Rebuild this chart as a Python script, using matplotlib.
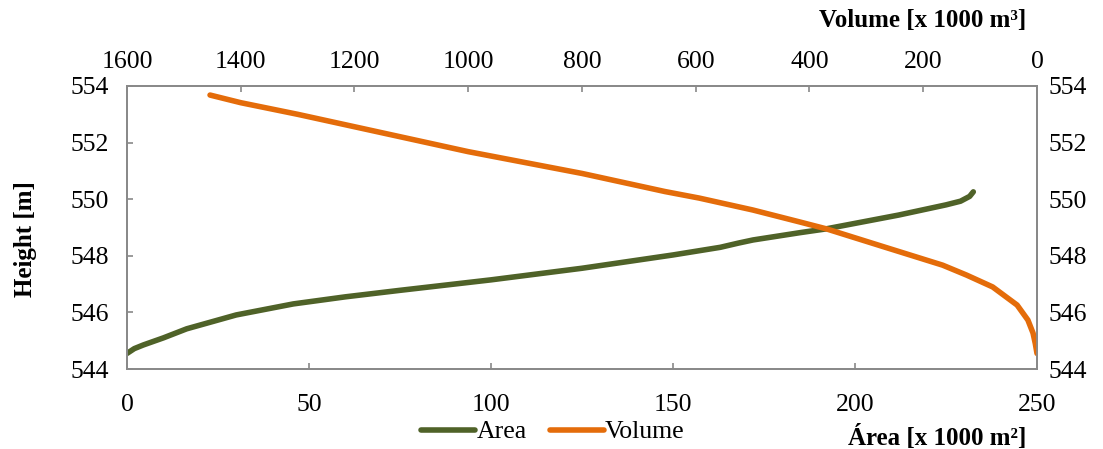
import matplotlib
matplotlib.use("Agg")
import matplotlib.pyplot as plt

plt.rcParams['font.family'] = ['Liberation Serif', 'DejaVu Serif']

# Area curve: area [x 1000 m2] vs height [m]
area_x = [0, 2, 4.5, 10, 16.4, 30, 45.7, 60, 75, 100, 125, 150, 163, 168, 172,
          185, 192, 212, 225, 229, 231.5, 232.5]
area_h = [544.55, 544.72, 544.85, 545.1, 545.42, 545.91, 546.3, 546.55, 546.78,
          547.15, 547.56, 548.03, 548.3, 548.45, 548.56, 548.82, 548.95, 549.44,
          549.8, 549.93, 550.1, 550.26]

# Volume curve: volume [x 1000 m3] vs height [m]
vol_x = [1454, 1400, 1300, 1200, 1100, 1000, 800, 654, 594, 500, 418, 370,
         265, 166, 124, 78, 35, 16, 7, 3, 0]
vol_h = [553.68, 553.41, 553.0, 552.56, 552.12, 551.68, 550.91, 550.27,
         550.04, 549.62, 549.2, 548.95, 548.29, 547.67, 547.32, 546.9, 546.26,
         545.73, 545.27, 544.9, 544.55]

area_ticks = [0, 50, 100, 150, 200, 250]
vol_ticks = [1600, 1400, 1200, 1000, 800, 600, 400, 200, 0]
h_ticks = [544, 546, 548, 550, 552, 554]

GREEN = '#4F6228'
ORANGE = '#E46C0A'
SPINE = '#898989'
FS = 18.5
LFS = 18

fig = plt.figure(figsize=(11.03, 4.49), dpi=100)
ax = fig.add_axes([127/1103, 1-369/449, 910/1103, 283/449])
ax2 = ax.twiny()

l1, = ax.plot(area_x, area_h, color=GREEN, lw=4, solid_capstyle='round',
              solid_joinstyle='round', label='Area')
l2, = ax2.plot(vol_x, vol_h, color=ORANGE, lw=4, solid_capstyle='round',
               solid_joinstyle='round', label='Volume')

ax.set_xlim(0, 250)
ax.set_ylim(544, 554)
ax2.set_xlim(1600, 0)
ax.set_xticks(area_ticks)
ax.set_yticks(h_ticks)
ax2.set_xticks(vol_ticks)

ax.tick_params(axis='x', direction='in', length=4.5, width=1.2, color=SPINE,
               labelsize=FS, pad=18)
ax.tick_params(axis='y', direction='in', length=4.5, width=1.2, color=SPINE,
               labelsize=FS, pad=13)
ax2.tick_params(axis='x', direction='in', length=4.5, width=1.2, color=SPINE,
                labelsize=FS, pad=9)

sec = ax.secondary_yaxis('right')
sec.set_yticks(h_ticks)
sec.tick_params(axis='y', length=0, labelsize=FS, pad=8)

for a in (ax, ax2, sec):
    for s in a.spines.values():
        s.set_color(SPINE)
        s.set_linewidth(1.3)

ax.set_ylabel('Height [m]', fontsize=LFS, fontweight='bold')
ax.yaxis.set_label_coords(-0.099, 0.46)
fig.text(1026/1103, 1-20/449, 'Volume [x 1000 m³]', fontsize=LFS,
         fontweight='bold', ha='right', va='center')
fig.text(1026/1103, 1-437/449, 'Área [x 1000 m²]', fontsize=LFS,
         fontweight='bold', ha='right', va='center')

fig.legend(handles=[l1, l2], loc='center', bbox_to_anchor=(553/1103, 1-432/449),
           ncol=2, frameon=False, fontsize=FS, handlelength=2.1,
           handletextpad=0.05, columnspacing=0.9, borderaxespad=0)

fig.savefig('out.png', dpi=100)
